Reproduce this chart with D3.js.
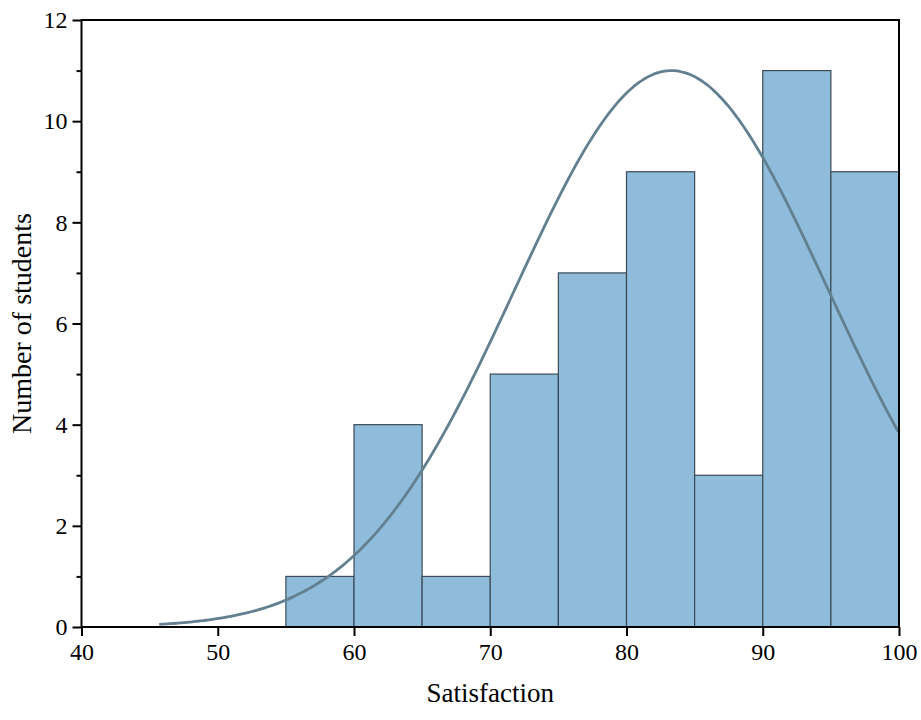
<!DOCTYPE html>
<html>
<head>
<meta charset="utf-8">
<script src="https://cdn.jsdelivr.net/npm/d3@7"></script>
<style>
  body { margin: 0; background: #fff; }
  text { font-family: "Liberation Serif", "Times New Roman", serif; }
</style>
</head>
<body>
<svg width="921" height="720"></svg>
<script>
// histogram bins (satisfaction score ranges) and counts
var binStarts = [55, 60, 65, 70, 75, 80, 85, 90, 95];
var binWidth = 5;
var counts = [1, 4, 1, 5, 7, 9, 3, 11, 9];

// fitted normal curve
var curveMean = [83.3];
var curveSd = [11.5];
var curvePeak = [11];
var curveRange = [45.7, 100];

var xTicks = [40, 50, 60, 70, 80, 90, 100];
var yTicks = [0, 2, 4, 6, 8, 10, 12];
var yMinor = [1, 3, 5, 7, 9, 11];

var svg = d3.select('svg');
var plotLeft = 81.5, plotRight = 899, plotTop = 20, plotBottom = 627;

var x = d3.scaleLinear().domain([40, 100]).range([plotLeft, plotRight]);
var y = d3.scaleLinear().domain([0, 12]).range([plotBottom, plotTop]);

// bars
svg.append('g').selectAll('rect')
    .data(binStarts)
    .enter().append('rect')
    .attr('x', function(d) { return x(d); })
    .attr('width', function(d) { return x(d + binWidth) - x(d); })
    .attr('y', function(d, i) { return y(counts[i]); })
    .attr('height', function(d, i) { return y(0) - y(counts[i]); })
    .attr('fill', '#8fbcdb')
    .attr('stroke', '#3b4a55')
    .attr('stroke-width', 1.2);

// normal curve
var pts = [];
for (var v = curveRange[0]; v <= curveRange[1] + 1e-9; v += 0.25) {
    var z = (v - curveMean[0]) / curveSd[0];
    pts.push([v, curvePeak[0] * Math.exp(-0.5 * z * z)]);
}
var line = d3.line()
    .x(function(d) { return x(d[0]); })
    .y(function(d) { return y(d[1]); })
    .curve(d3.curveBasis);
svg.append('path')
    .datum(pts)
    .attr('d', line)
    .attr('fill', 'none')
    .attr('stroke', '#62808f')
    .attr('stroke-width', 2.8);

// frame
svg.append('rect')
    .attr('x', plotLeft).attr('y', plotTop)
    .attr('width', plotRight - plotLeft).attr('height', plotBottom - plotTop)
    .attr('fill', 'none')
    .attr('stroke', '#000')
    .attr('stroke-width', 2);

// axes
var xAxis = d3.axisBottom(x).tickValues(xTicks).tickSize(9).tickPadding(7);
var gx = svg.append('g').attr('transform', 'translate(0,' + plotBottom + ')').call(xAxis);
var yAxis = d3.axisLeft(y).tickValues(yTicks).tickSize(9).tickPadding(5);
var gy = svg.append('g').attr('transform', 'translate(' + plotLeft + ',0)').call(yAxis);
var gyMinor = svg.append('g').attr('transform', 'translate(' + plotLeft + ',0)')
    .call(d3.axisLeft(y).tickValues(yMinor).tickSize(5).tickFormat(''));

[gx, gy, gyMinor].forEach(function(g) {
    g.select('.domain').remove();
    g.selectAll('line').attr('stroke', '#000').attr('stroke-width', 2);
    g.selectAll('text').attr('fill', '#000').style('font-size', '24px')
        .style('font-family', '"Liberation Serif", "Times New Roman", serif');
});

// labels
svg.append('text')
    .attr('x', (plotLeft + plotRight) / 2)
    .attr('y', 702)
    .attr('text-anchor', 'middle')
    .style('font-size', '27px')
    .text('Satisfaction');

svg.append('text')
    .attr('transform', 'translate(31,' + ((plotTop + plotBottom) / 2) + ') rotate(-90)')
    .attr('text-anchor', 'middle')
    .style('font-size', '28px')
    .text('Number of students');
</script>
</body>
</html>
